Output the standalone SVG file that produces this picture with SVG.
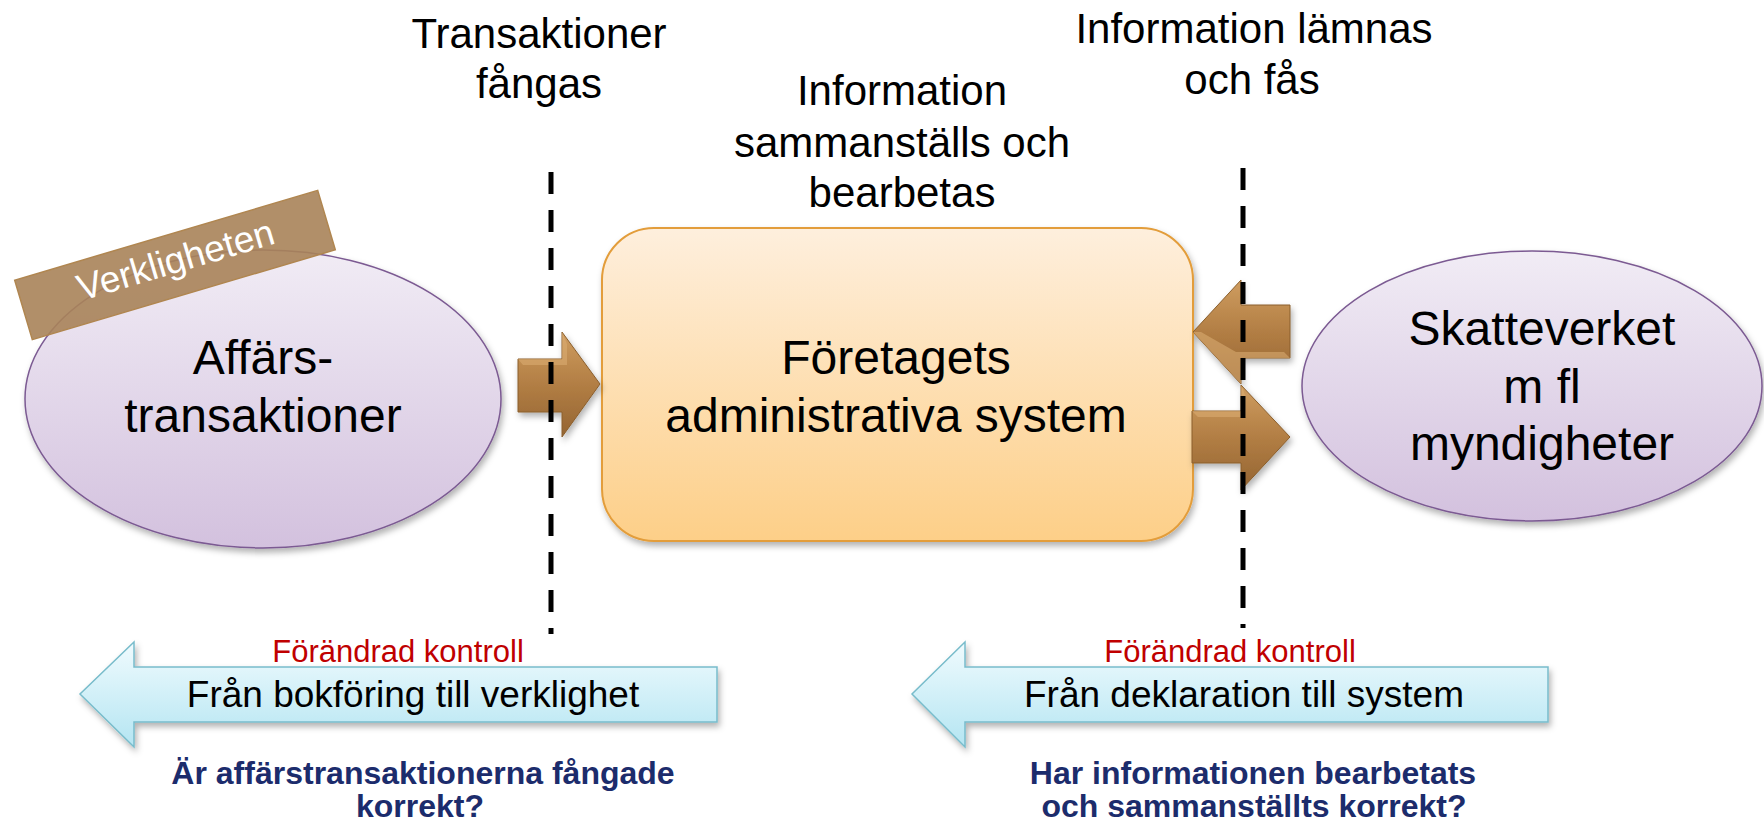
<svg xmlns="http://www.w3.org/2000/svg" width="1764" height="821" viewBox="0 0 1764 821">
<style>
  text { font-family: "Liberation Sans", Arial, sans-serif; }
  .main { font-size: 48px; fill: #000; text-anchor: middle; }
  .top { font-size: 42px; fill: #000; text-anchor: middle; }
  .red { font-size: 31px; fill: #c00000; text-anchor: middle; }
  .band { font-size: 37px; fill: #000; text-anchor: middle; }
  .q { font-size: 32px; font-weight: bold; fill: #1c2c6c; text-anchor: middle; }
  .dash { stroke: #000; stroke-width: 5; stroke-dasharray: 22 16; fill: none; }
  .oval { fill: url(#gOval); stroke: #7b5a92; stroke-width: 1.5; filter: url(#shadow); }
  .brown { fill: url(#gBrown); stroke: #8a5e2c; stroke-width: 1; filter: url(#shadow); }
  .bevel { fill: #dcae74; opacity: 0.55; }
  .cyan { fill: url(#gCyan); stroke: #78bccb; stroke-width: 1.5; filter: url(#shadow); }
</style>
<defs>
  <linearGradient id="gOval" x1="0" y1="0" x2="0" y2="1">
    <stop offset="0" stop-color="#f1ecf5"/>
    <stop offset="1" stop-color="#d3c1de"/>
  </linearGradient>
  <linearGradient id="gBox" x1="0" y1="0" x2="0" y2="1">
    <stop offset="0" stop-color="#feefdd"/>
    <stop offset="1" stop-color="#fdcf88"/>
  </linearGradient>
  <linearGradient id="gBrown" x1="0" y1="0" x2="0" y2="1">
    <stop offset="0" stop-color="#cf9d60"/>
    <stop offset="0.5" stop-color="#b27e44"/>
    <stop offset="1" stop-color="#946432"/>
  </linearGradient>
  <linearGradient id="gCyan" x1="0" y1="0" x2="0" y2="1">
    <stop offset="0" stop-color="#f0fbfe"/>
    <stop offset="1" stop-color="#b4e5f2"/>
  </linearGradient>
  <filter id="shadow" x="-10%" y="-10%" width="120%" height="130%">
    <feDropShadow dx="2" dy="4" stdDeviation="3" flood-color="#000" flood-opacity="0.3"/>
  </filter>
</defs>

<g id="top-labels">
  <text class="top" x="539" y="48">Transaktioner</text>
  <text class="top" x="539" y="98">fångas</text>
  <text class="top" x="902" y="105">Information</text>
  <text class="top" x="902" y="157">sammanställs och</text>
  <text class="top" x="902" y="207">bearbetas</text>
  <text class="top" x="1254" y="43">Information lämnas</text>
  <text class="top" x="1252" y="94">och fås</text>
</g>

<g id="node-affars">
  <ellipse class="oval" cx="263" cy="399" rx="238" ry="149"/>
  <text class="main" x="263" y="374">Affärs-</text>
  <text class="main" x="263" y="432">transaktioner</text>
</g>

<g id="node-verkligheten" transform="translate(175 265) rotate(-16.5)">
  <rect x="-158" y="-31" width="316" height="62" fill="#a98359" fill-opacity="0.9" stroke="#b08650" stroke-width="1.5"/>
  <text x="2" y="8" font-size="37" fill="#ffffff" text-anchor="middle">Verkligheten</text>
</g>

<g id="node-system">
  <rect x="602" y="228" width="591" height="313" rx="52" ry="52" fill="url(#gBox)" stroke="#e39d3a" stroke-width="2" filter="url(#shadow)"/>
  <text class="main" x="896" y="374">Företagets</text>
  <text class="main" x="896" y="432">administrativa system</text>
</g>

<g id="node-skatteverket">
  <ellipse class="oval" cx="1532" cy="386" rx="230" ry="135"/>
  <text class="main" x="1542" y="345">Skatteverket</text>
  <text class="main" x="1542" y="403">m fl</text>
  <text class="main" x="1542" y="460">myndigheter</text>
</g>

<g id="connectors">
  <polygon class="brown" points="518,359 562,359 562,332 600,384 562,437 562,412 518,412"/>
  <polygon class="bevel" points="518,359 562,359 562,332 567,344 567,365 523,365"/>
  <polygon class="brown" points="1290,305 1241,305 1241,280 1193,332 1241,384 1241,358 1290,358"/>
  <polygon class="bevel" points="1241,358 1290,358 1284,352 1236,352 1201,332 1193,332 1241,384"/>
  <polygon class="brown" points="1192,411 1241,411 1241,385 1290,437 1241,490 1241,463 1192,463"/>
  <polygon class="bevel" points="1192,411 1241,411 1241,385 1246,397 1246,417 1198,417"/>
  <line class="dash" x1="551" y1="172" x2="551" y2="634"/>
  <line class="dash" x1="1243" y1="168" x2="1243" y2="628"/>
</g>

<g id="control-left">
  <polygon class="cyan" points="717,667 134,667 134,642 80,694 134,747 134,722 717,722"/>
  <text class="red" x="398" y="662">Förändrad kontroll</text>
  <text class="band" x="413" y="707">Från bokföring till verklighet</text>
  <text class="q" x="423" y="784">Är affärstransaktionerna fångade</text>
  <text class="q" x="420" y="817">korrekt?</text>
</g>

<g id="control-right">
  <polygon class="cyan" points="1548,667 965,667 965,642 912,694 965,747 965,722 1548,722"/>
  <text class="red" x="1230" y="662">Förändrad kontroll</text>
  <text class="band" x="1244" y="707">Från deklaration till system</text>
  <text class="q" x="1253" y="784">Har informationen bearbetats</text>
  <text class="q" x="1254" y="817">och sammanställts korrekt?</text>
</g>
</svg>
